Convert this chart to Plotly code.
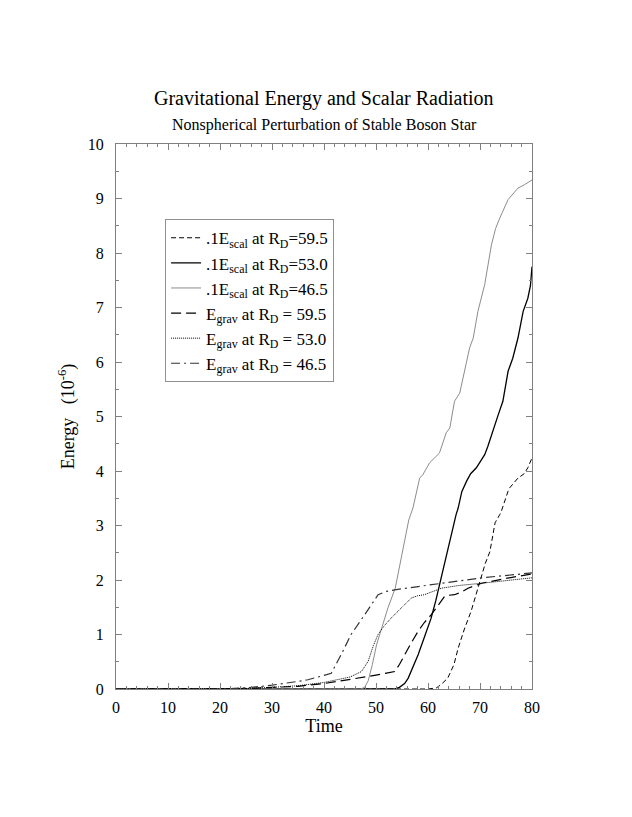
import plotly.graph_objects as go

# .1 E_scal curves
escal_595_x = [0, 60, 61.6, 62.5, 63.8, 65, 65.8, 67, 68.3, 69.9, 71, 71.9, 72.9, 73.8, 74.1, 75.4, 75.7, 77.3, 78.5, 79.2, 80]
escal_595_y = [0, 0, 0.02, 0.08, 0.2, 0.45, 0.75, 1.1, 1.43, 1.97, 2.3, 2.52, 3.05, 3.2, 3.26, 3.63, 3.69, 3.87, 3.95, 4.06, 4.24]

escal_530_x = [0, 53.5, 54.5, 55.5, 56.2, 57, 58.1, 59.3, 60.6, 61.5, 62.2, 63.5, 64.5, 65.4, 65.8, 66.5, 67.4, 68.2,
               69.3, 70.9, 71.5, 72.2, 73.5, 74.4, 75.4, 76.3, 77.3, 78.3, 79.2, 79.7, 80]
escal_530_y = [0, 0, 0.03, 0.1, 0.2, 0.38, 0.63, 0.95, 1.30, 1.62, 1.91, 2.46, 2.83, 3.2, 3.32, 3.62, 3.81, 3.95,
               4.06, 4.30, 4.45, 4.64, 5.03, 5.28, 5.83, 6.07, 6.44, 6.93, 7.17, 7.4, 7.75]

escal_465_x = [0, 47, 47.8, 48.5, 49.3, 50.1, 51.2, 52.3, 53.7, 54.6, 55.5, 56.3, 57.1, 58.4, 59.0, 60.3, 62.2, 63.5,
               64.2, 65.1, 66.1, 67.0, 68.0, 68.7, 69.6, 70.9, 72.2, 73.0, 73.8, 75.4, 76.5, 77.3, 78.5, 80]
escal_465_y = [0, 0, 0.03, 0.15, 0.45, 0.81, 1.15, 1.49, 1.85, 2.3, 2.77, 3.1, 3.32, 3.87, 3.93, 4.15, 4.33, 4.70,
               4.79, 5.28, 5.43, 5.83, 6.26, 6.44, 6.93, 7.42, 8.15, 8.45, 8.64, 8.98, 9.1, 9.19, 9.25, 9.34]

# E_grav curves
egrav_595_x = [0, 20, 25, 30, 35, 40, 45, 48.5, 52, 53.6, 54.5, 55.5, 56.8, 58.1, 59.3, 60.6, 62, 63.2, 64, 65.1,
               66.5, 67.7, 70.3, 75, 80]
egrav_595_y = [0, 0, 0.01, 0.03, 0.05, 0.1, 0.17, 0.23, 0.29, 0.32, 0.45, 0.63, 0.85, 1.06, 1.22, 1.36, 1.55, 1.70,
               1.72, 1.73, 1.78, 1.85, 1.94, 2.03, 2.11]

egrav_530_x = [0, 20, 25, 30, 35, 40, 45, 47.2, 48.5, 49.5, 50.4, 51.5, 52.9, 55, 56.8, 58, 59.3, 62.6, 66, 70.3, 75, 80]
egrav_530_y = [0, 0, 0.01, 0.03, 0.06, 0.12, 0.22, 0.32, 0.51, 0.8, 1.0, 1.15, 1.30, 1.5, 1.67, 1.71, 1.73, 1.85,
               1.9, 1.94, 1.99, 2.04]

egrav_465_x = [0, 20, 25, 30, 35, 36.9, 40, 41.4, 43.3, 45.2, 47.8, 50.4, 52, 53.6, 58.1, 62.6, 70.3, 80]
egrav_465_y = [0, 0, 0.02, 0.07, 0.14, 0.17, 0.25, 0.29, 0.63, 1.0, 1.36, 1.73, 1.79, 1.82, 1.88, 1.94, 2.04, 2.13]

FONT = "Liberation Serif, Times New Roman, serif"

series = [
    (escal_595_x, escal_595_y, ".1E<sub>scal</sub> at R<sub>D</sub>=59.5", dict(color="black", width=1, dash="5px,3px")),
    (escal_530_x, escal_530_y, ".1E<sub>scal</sub> at R<sub>D</sub>=53.0", dict(color="black", width=1.3)),
    (escal_465_x, escal_465_y, ".1E<sub>scal</sub> at R<sub>D</sub>=46.5", dict(color="#8c8c8c", width=1)),
    (egrav_595_x, egrav_595_y, "E<sub>grav</sub> at R<sub>D</sub> = 59.5", dict(color="black", width=1.2, dash="10px,5px")),
    (egrav_530_x, egrav_530_y, "E<sub>grav</sub> at R<sub>D</sub> = 53.0", dict(color="black", width=1, dash="1px,1px")),
    (egrav_465_x, egrav_465_y, "E<sub>grav</sub> at R<sub>D</sub> = 46.5", dict(color="#333333", width=1.2, dash="9px,4px,2px,4px")),
]

fig = go.Figure()
for xs, ys, name, line in series:
    fig.add_trace(go.Scatter(x=xs, y=ys, mode="lines", name=name, line=line))

axis_common = dict(
    showline=True, linecolor="#808080", linewidth=1, mirror="ticks",
    ticks="inside", ticklen=6, tickcolor="#808080", showgrid=False, zeroline=False,
    tickfont=dict(family=FONT, size=16, color="black"),
)

fig.update_xaxes(
    range=[0, 80], dtick=10, tick0=0, ticklabelstandoff=4,
    minor=dict(ticks="inside", dtick=2, ticklen=3, tickcolor="#808080"),
    title=dict(text="Time", font=dict(family=FONT, size=18, color="black"), standoff=2),
    **axis_common,
)
fig.update_yaxes(
    range=[0, 10], dtick=1, tick0=0, ticklabelstandoff=8,
    minor=dict(ticks="inside", dtick=0.5, ticklen=3, tickcolor="#808080"),
    title=dict(text="Energy   (10<sup>-6</sup>)", font=dict(family=FONT, size=18, color="black"), standoff=8),
    **axis_common,
)

fig.update_layout(
    width=632, height=817,
    margin=dict(l=108, r=108, t=136, b=136),
    paper_bgcolor="white", plot_bgcolor="white",
    font=dict(family=FONT, color="black"),
    legend=dict(
        x=0.118, y=0.862, xanchor="left", yanchor="top",
        bordercolor="#909090", borderwidth=1, bgcolor="white",
        font=dict(family=FONT, size=17, color="black"),
        tracegroupgap=0,
    ),
    annotations=[
        dict(text="Gravitational Energy and Scalar Radiation", x=0.5, y=1.084, xref="paper", yref="paper",
             showarrow=False, font=dict(family=FONT, size=20, color="black"), yanchor="middle"),
        dict(text="Nonspherical Perturbation of Stable Boson Star", x=0.5, y=1.035, xref="paper", yref="paper",
             showarrow=False, font=dict(family=FONT, size=16, color="black"), yanchor="middle"),
    ],
)

fig.write_html("out.html")
